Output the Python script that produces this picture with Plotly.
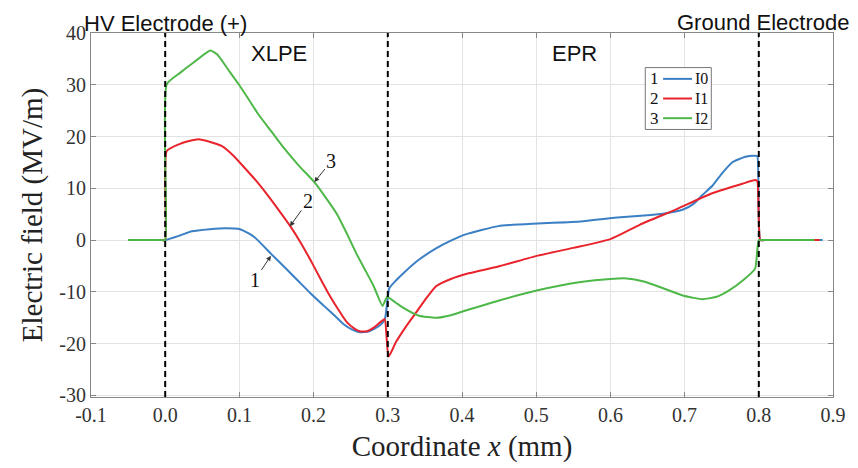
import plotly.graph_objects as go

# ---------------- data ----------------
x_i0 = [-0.05, -0.004, 0.0, 0.02, 0.036, 0.06, 0.081, 0.101, 0.12, 0.143, 0.16, 0.178, 0.196,
        0.214, 0.23, 0.241, 0.252, 0.262, 0.275, 0.289, 0.296, 0.302, 0.311, 0.321,
        0.34, 0.365, 0.385, 0.405, 0.449, 0.502, 0.56, 0.605, 0.65, 0.671, 0.698,
        0.712, 0.724, 0.738, 0.751, 0.764, 0.782, 0.795, 0.798, 0.802, 0.808, 0.886]
y_i0 = [0, 0, 0, 0.9, 1.7, 2.1, 2.3, 2.1, 0.6, -2.7, -5.1, -7.7, -10.3,
        -12.7, -14.8, -16.3, -17.3, -17.8, -17.6, -16.5, -15.3, -9.3, -7.8, -6.4,
        -4.0, -1.6, -0.1, 1.1, 2.7, 3.2, 3.6, 4.3, 4.8, 5.1, 5.9,
        7.0, 8.7, 10.6, 13.0, 15.0, 16.1, 16.3, 16.2, 0, 0, 0]

x_i1 = [-0.05, -0.004, 0.0, 0.002, 0.02, 0.045, 0.076, 0.092, 0.108, 0.123, 0.138, 0.153,
        0.169, 0.183, 0.196, 0.209, 0.222, 0.235, 0.245, 0.255, 0.262, 0.272, 0.281,
        0.293, 0.296, 0.301, 0.311, 0.324, 0.338, 0.352, 0.365, 0.385, 0.409, 0.449,
        0.502, 0.55, 0.6, 0.64, 0.688, 0.738, 0.778, 0.795, 0.798, 0.802, 0.808, 0.882]
y_i1 = [0, 0, 0, 17.2, 18.6, 19.5, 18.2, 16.3, 13.8, 11.4, 8.7, 5.8,
        2.6, -0.6, -3.9, -7.4, -10.8, -13.8, -15.9, -17.1, -17.6, -17.6, -16.9,
        -15.5, -15.3, -22.5, -19.7, -16.8, -14.0, -11.2, -8.9, -7.5, -6.4, -5.1,
        -3.0, -1.5, 0.2, 3.0, 5.9, 9.1, 10.9, 11.6, 11.4, 0, 0, 0]

x_i2 = [-0.05, -0.004, 0.0, 0.002, 0.02, 0.04, 0.061, 0.07, 0.085, 0.099, 0.112, 0.125,
        0.143, 0.161, 0.18, 0.201, 0.214, 0.232, 0.245, 0.258, 0.27, 0.281, 0.293,
        0.299, 0.31, 0.321, 0.342, 0.365, 0.385, 0.405, 0.449, 0.502, 0.56, 0.6,
        0.622, 0.645, 0.671, 0.7, 0.724, 0.742, 0.76, 0.78, 0.795, 0.8, 0.806, 0.875]
y_i2 = [0, 0, 0, 30.1, 32.3, 34.5, 36.6, 35.9, 32.9, 30.1, 27.3, 24.4,
        21.0, 17.6, 14.4, 11.2, 8.7, 4.9, 1.2, -2.7, -5.9, -8.9, -12.7,
        -11.0, -12.0, -13.1, -14.6, -15.0, -14.5, -13.6, -11.7, -9.7, -8.1, -7.5,
        -7.4, -8.0, -9.3, -10.8, -11.4, -11.0, -9.7, -7.6, -5.5, 0, 0, 0]

series_names = ["I0", "I1", "I2"]
series_nums = ["1", "2", "3"]
series_colors = ["#3b7fc4", "#e8232b", "#4db848"]

x_ticks = [-0.1, 0.0, 0.1, 0.2, 0.3, 0.4, 0.5, 0.6, 0.7, 0.8, 0.9]
x_ticklabels = ["-0.1", "0.0", "0.1", "0.2", "0.3", "0.4", "0.5", "0.6", "0.7", "0.8", "0.9"]
y_ticks = [-30, -20, -10, 0, 10, 20, 30, 40]
y_ticklabels = ["-30", "-20", "-10", "0", "10", "20", "30", "40"]

boundaries = [0.0, 0.3, 0.8]

# ---------------- figure ----------------
SERIF = "Liberation Serif, Times New Roman, serif"
SANS = "Liberation Sans, Arial, sans-serif"

fig = go.Figure()
for xs, ys, name, col in zip([x_i0, x_i1, x_i2], [y_i0, y_i1, y_i2], series_names, series_colors):
    fig.add_trace(go.Scatter(x=xs, y=ys, mode="lines", name=name,
                             line=dict(color=col, width=2, shape="spline", smoothing=0.5),
                             showlegend=False))

for b in boundaries:
    fig.add_shape(type="line", xref="x", yref="paper", x0=b, x1=b, y0=0, y1=1,
                  line=dict(color="black", width=2, dash="6px,4px"))

# manual legend (number, line sample, label)
fig.add_shape(type="rect", xref="paper", yref="paper", x0=0.747, x1=0.836, y0=0.735, y1=0.905,
              line=dict(color="#777777", width=1), fillcolor="white", layer="above")
row_y = [0.874, 0.820, 0.766]
for ry, num, name, col in zip(row_y, series_nums, series_names, series_colors):
    fig.add_shape(type="line", xref="paper", yref="paper", x0=0.771, x1=0.810, y0=ry, y1=ry,
                  line=dict(color=col, width=2), layer="above")
    fig.add_annotation(xref="paper", yref="paper", x=0.760, y=ry, text=num, showarrow=False,
                       height=17, borderpad=0,
                       font=dict(family=SERIF, size=17, color="#111"), xanchor="center", yanchor="middle")
    fig.add_annotation(xref="paper", yref="paper", x=0.813, y=ry, text=name, showarrow=False,
                       height=17, borderpad=0,
                       font=dict(family=SERIF, size=16, color="#111"), xanchor="left", yanchor="middle")

# region labels
fig.add_annotation(xref="x", yref="paper", x=0.0, y=1.025, text="HV Electrode (+)", showarrow=False,
                   font=dict(family=SANS, size=22, color="#111"), xanchor="center", yanchor="middle")
fig.add_annotation(xref="x", yref="paper", x=0.806, y=1.03, text="Ground Electrode", showarrow=False,
                   font=dict(family=SANS, size=22, color="#111"), xanchor="center", yanchor="middle")
fig.add_annotation(xref="x", yref="paper", x=0.153, y=0.945, text="XLPE", showarrow=False,
                   font=dict(family=SANS, size=22, color="#111"), xanchor="center", yanchor="middle")
fig.add_annotation(xref="x", yref="paper", x=0.552, y=0.945, text="EPR", showarrow=False,
                   font=dict(family=SANS, size=22, color="#111"), xanchor="center", yanchor="middle")

# curve callouts
callouts = [(0.1425, -3.0, "1", -16, 24), (0.168, 2.65, "2", 18, -25), (0.201, 11.2, "3", 17, -21)]
for cx, cy, t, ax, ay in callouts:
    fig.add_annotation(x=cx, y=cy, text=t, showarrow=True, ax=ax, ay=ay,
                       arrowhead=2, arrowsize=1, arrowwidth=1, arrowcolor="#333",
                       font=dict(family=SERIF, size=20, color="#111"))

axis_common = dict(showline=True, linecolor="#888888", linewidth=1, mirror="ticks",
                   ticks="inside", ticklen=5, tickcolor="#888888",
                   showgrid=True, gridcolor="#e3e3e3", gridwidth=1, zeroline=False,
                   tickfont=dict(family=SERIF, size=20, color="#333333"))

fig.update_xaxes(range=[-0.1, 0.9], tickvals=x_ticks, ticktext=x_ticklabels,
                 title=dict(text="Coordinate <i>x</i> (mm)", font=dict(family=SERIF, size=29, color="#222"),
                            standoff=10),
                 **axis_common)
fig.update_yaxes(range=[-30.3, 40], tickvals=y_ticks, ticktext=y_ticklabels,
                 title=dict(text="Electric field (MV/m)", font=dict(family=SERIF, size=29, color="#222"),
                            standoff=8),
                 **axis_common)

fig.update_layout(width=858, height=468, margin=dict(l=91, r=16, t=33, b=63),
                  paper_bgcolor="white", plot_bgcolor="white", showlegend=False)

fig.write_html("out.html")
